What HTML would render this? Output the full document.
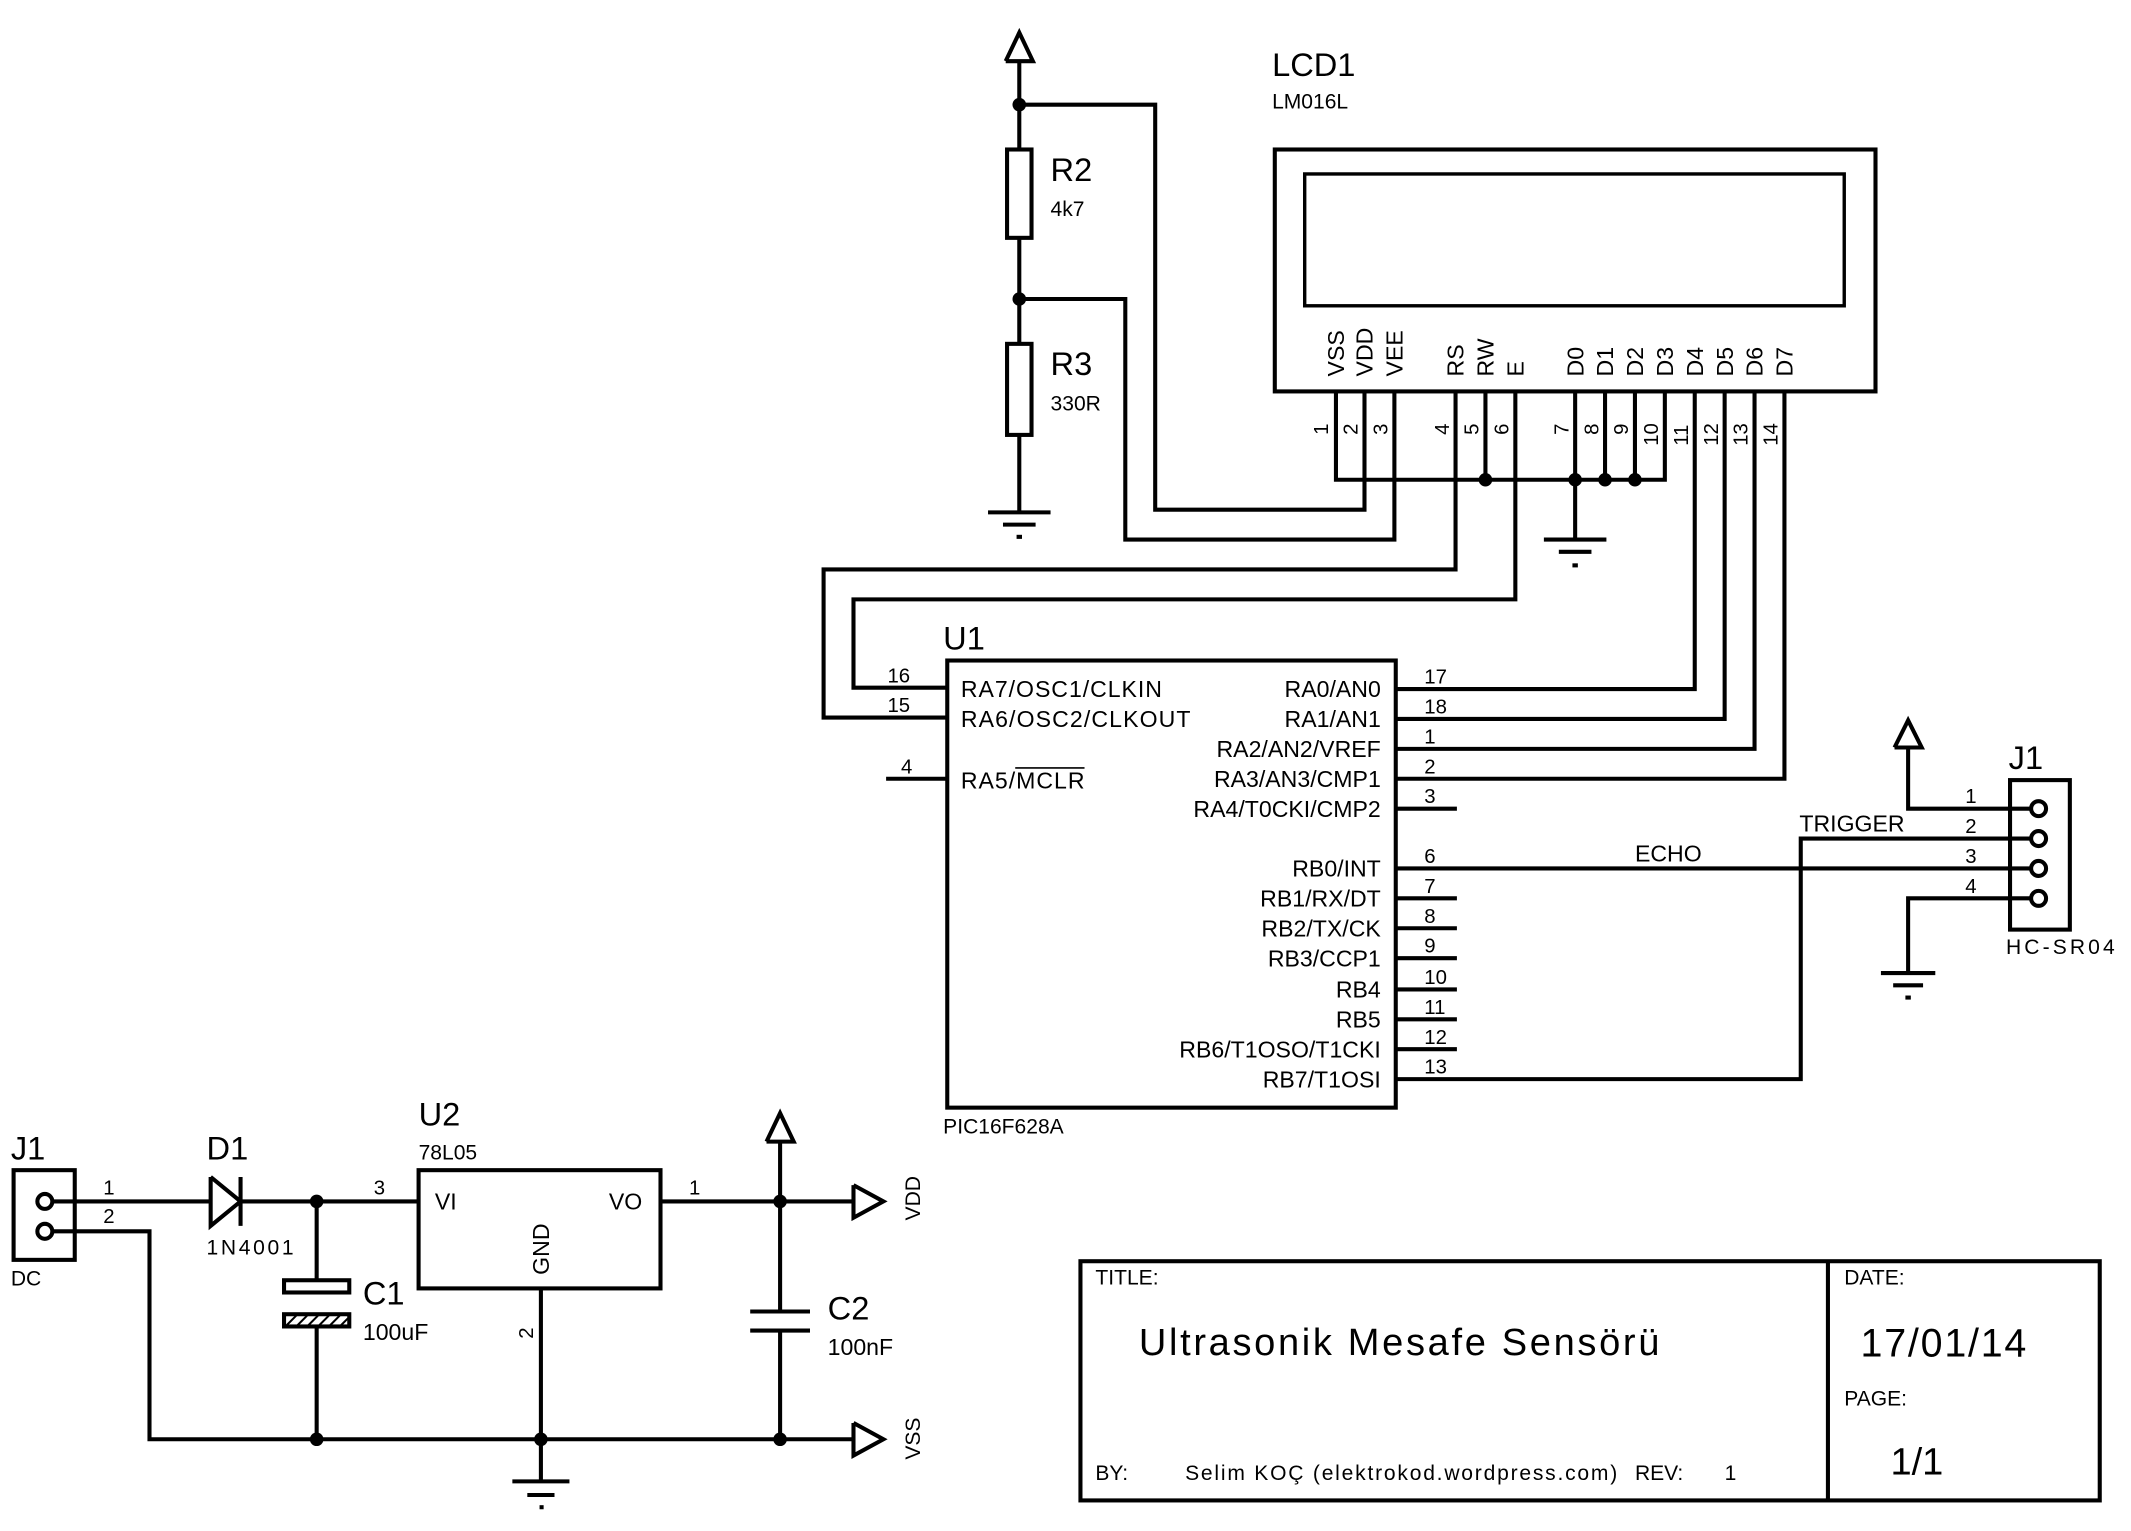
<!DOCTYPE html>
<html><head><meta charset="utf-8"><style>
html,body{margin:0;padding:0;background:#fff}
svg{display:block}
text{font-family:"Liberation Sans",Arial,sans-serif;fill:#000}
.s{font-size:17px}.m{font-size:15.5px}.b{font-size:24px}.n{font-size:15px}
</style></head><body>
<svg width="2131" height="1531" viewBox="0 0 1568 1126.5" preserveAspectRatio="none" xmlns="http://www.w3.org/2000/svg">
<g stroke="#000" stroke-width="3" fill="none">
<polyline points="740,45 750,24 760,45 740,45"/>
<line x1="750" y1="45" x2="750" y2="110"/>
<rect x="741" y="110" width="18" height="65"/>
<line x1="750" y1="175" x2="750" y2="253"/>
<rect x="741" y="253" width="18" height="67"/>
<line x1="750" y1="320" x2="750" y2="377"/>
<line x1="727" y1="377" x2="773" y2="377"/><line x1="738" y1="386" x2="762" y2="386"/><line x1="748" y1="395" x2="752" y2="395"/>
<rect x="938" y="110" width="442" height="178"/>
<rect x="960" y="128" width="397" height="97" stroke-width="2.5"/>
<polyline points="983,288 983,353 1225,353 1225,288"/>
<line x1="1093" y1="288" x2="1093" y2="353"/>
<line x1="1159" y1="288" x2="1159" y2="397"/>
<line x1="1181" y1="288" x2="1181" y2="353"/>
<line x1="1203" y1="288" x2="1203" y2="353"/>
<line x1="1136" y1="397" x2="1182" y2="397"/><line x1="1147" y1="406" x2="1171" y2="406"/><line x1="1157" y1="416" x2="1161" y2="416"/>
<polyline points="750,77 850,77 850,375 1004,375 1004,288"/>
<polyline points="750,220 828,220 828,397 1026,397 1026,288"/>
<polyline points="1071,288 1071,419 606,419 606,528 697,528"/>
<polyline points="1115,288 1115,441 628,441 628,506 697,506"/>
<polyline points="1247,288 1247,507 1027,507"/>
<polyline points="1269,288 1269,529 1027,529"/>
<polyline points="1291,288 1291,551 1027,551"/>
<polyline points="1313,288 1313,573 1027,573"/>
<rect x="697" y="486" width="330" height="329"/>
<line x1="652" y1="573" x2="697" y2="573"/>
<line x1="1027" y1="595" x2="1072" y2="595"/>
<line x1="1027" y1="661" x2="1072" y2="661"/>
<line x1="1027" y1="683" x2="1072" y2="683"/>
<line x1="1027" y1="705" x2="1072" y2="705"/>
<line x1="1027" y1="728" x2="1072" y2="728"/>
<line x1="1027" y1="750" x2="1072" y2="750"/>
<line x1="1027" y1="772" x2="1072" y2="772"/>
<line x1="1027" y1="639" x2="1495" y2="639"/>
<polyline points="1027,794 1325,794 1325,617 1495,617"/>
<rect x="1479" y="574" width="44" height="110"/>
<polyline points="1394,550 1404,530 1414,550 1394,550"/>
<polyline points="1404,550 1404,595 1495,595"/>
<polyline points="1495,661 1404,661 1404,716"/>
<line x1="1384" y1="716" x2="1424" y2="716"/><line x1="1393" y1="725" x2="1415" y2="725"/><line x1="1402" y1="734" x2="1406" y2="734"/>
<circle cx="1500" cy="595" r="5.5"/><circle cx="1500" cy="617" r="5.5"/><circle cx="1500" cy="639" r="5.5"/><circle cx="1500" cy="661" r="5.5"/>
<rect x="10" y="861" width="45" height="66"/>
<circle cx="33" cy="884" r="5.5"/><circle cx="33" cy="906" r="5.5"/>
<line x1="39" y1="884" x2="155" y2="884"/>
<polyline points="155,866 155,902 177,884 155,866"/>
<line x1="177" y1="866" x2="177" y2="902"/>
<line x1="177" y1="884" x2="308" y2="884"/>
<polyline points="39,906 110,906 110,1059 628,1059"/>
<line x1="233" y1="884" x2="233" y2="942"/>
<rect x="209" y="942" width="48" height="9"/>
<rect x="209" y="967" width="48" height="9"/>
<line x1="233" y1="976" x2="233" y2="1059"/>
<rect x="308" y="861" width="178" height="87"/>
<line x1="398" y1="948" x2="398" y2="1090"/>
<line x1="377" y1="1090" x2="419" y2="1090"/><line x1="388" y1="1100" x2="408" y2="1100"/><line x1="397" y1="1109" x2="400" y2="1109"/>
<line x1="486" y1="884" x2="628" y2="884"/>
<polyline points="564,840 574,819 584,840 564,840"/>
<line x1="574" y1="840" x2="574" y2="965"/>
<line x1="552" y1="965" x2="596" y2="965"/>
<line x1="552" y1="979" x2="596" y2="979"/>
<line x1="574" y1="979" x2="574" y2="1059"/>
<polyline points="628,872 650,884 628,896 628,872"/>
<polyline points="628,1047 650,1059 628,1071 628,1047"/>
<rect x="795" y="928" width="750" height="176"/>
<line x1="1345" y1="928" x2="1345" y2="1104"/>
</g>
<g stroke="#000" stroke-width="1.5">
<line x1="211" y1="975" x2="218" y2="968"/><line x1="219" y1="975" x2="226" y2="968"/><line x1="227" y1="975" x2="234" y2="968"/><line x1="235" y1="975" x2="242" y2="968"/><line x1="243" y1="975" x2="250" y2="968"/><line x1="251" y1="975" x2="256" y2="970"/>
</g>
<g fill="#000">
<circle cx="750" cy="77" r="5"/><circle cx="750" cy="220" r="5"/>
<circle cx="1093" cy="353" r="5"/><circle cx="1159" cy="353" r="5"/><circle cx="1181" cy="353" r="5"/><circle cx="1203" cy="353" r="5"/>
<circle cx="233" cy="884" r="5"/><circle cx="233" cy="1059" r="5"/><circle cx="398" cy="1059" r="5"/><circle cx="574" cy="1059" r="5"/><circle cx="574" cy="884" r="5"/>
</g>
<text x="936" y="56" class="b">LCD1</text>
<text x="936" y="80" class="m">LM016L</text>
<text x="773" y="133" class="b">R2</text><text x="773" y="159" class="m">4k7</text>
<text x="773" y="276" class="b">R3</text><text x="773" y="302" class="m">330R</text>
<g class="s">
<text transform="translate(989,277) rotate(-90)">VSS</text>
<text transform="translate(1010,277) rotate(-90)">VDD</text>
<text transform="translate(1032,277) rotate(-90)">VEE</text>
<text transform="translate(1077,277) rotate(-90)">RS</text>
<text transform="translate(1099,277) rotate(-90)">RW</text>
<text transform="translate(1121,277) rotate(-90)">E</text>
<text transform="translate(1165,277) rotate(-90)">D0</text>
<text transform="translate(1187,277) rotate(-90)">D1</text>
<text transform="translate(1209,277) rotate(-90)">D2</text>
<text transform="translate(1231,277) rotate(-90)">D3</text>
<text transform="translate(1253,277) rotate(-90)">D4</text>
<text transform="translate(1275,277) rotate(-90)">D5</text>
<text transform="translate(1297,277) rotate(-90)">D6</text>
<text transform="translate(1319,277) rotate(-90)">D7</text>
</g>
<g class="n">
<text transform="translate(977,320) rotate(-90)">1</text>
<text transform="translate(999,320) rotate(-90)">2</text>
<text transform="translate(1021,320) rotate(-90)">3</text>
<text transform="translate(1066,320) rotate(-90)">4</text>
<text transform="translate(1088,320) rotate(-90)">5</text>
<text transform="translate(1110,320) rotate(-90)">6</text>
<text transform="translate(1154,320) rotate(-90)">7</text>
<text transform="translate(1176,320) rotate(-90)">8</text>
<text transform="translate(1198,320) rotate(-90)">9</text>
<text transform="translate(1220,328) rotate(-90)">10</text>
<text transform="translate(1242,328) rotate(-90)">11</text>
<text transform="translate(1264,328) rotate(-90)">12</text>
<text transform="translate(1286,328) rotate(-90)">13</text>
<text transform="translate(1308,328) rotate(-90)">14</text>
</g>
<text x="694" y="478" class="b">U1</text>
<text x="694" y="834" class="m">PIC16F628A</text>
<g class="s">
<text x="707" y="513" textLength="148">RA7/OSC1/CLKIN</text>
<text x="707" y="535" textLength="169">RA6/OSC2/CLKOUT</text>
<text x="707" y="580" textLength="91">RA5/MCLR</text>
</g>
<line x1="747" y1="565" x2="798" y2="565" stroke="#000" stroke-width="1.2"/>
<g class="s" text-anchor="end">
<text x="1016" y="513">RA0/AN0</text><text x="1016" y="535">RA1/AN1</text><text x="1016" y="557">RA2/AN2/VREF</text><text x="1016" y="579">RA3/AN3/CMP1</text><text x="1016" y="601">RA4/T0CKI/CMP2</text>
<text x="1016" y="645">RB0/INT</text><text x="1016" y="667">RB1/RX/DT</text><text x="1016" y="689">RB2/TX/CK</text><text x="1016" y="711">RB3/CCP1</text><text x="1016" y="734">RB4</text><text x="1016" y="756">RB5</text><text x="1016" y="778">RB6/T1OSO/T1CKI</text><text x="1016" y="800">RB7/T1OSI</text>
</g>
<g class="n">
<text x="653" y="502">16</text><text x="653" y="524">15</text><text x="663" y="569">4</text>
<text x="1048" y="503">17</text><text x="1048" y="525">18</text><text x="1048" y="547">1</text><text x="1048" y="569">2</text><text x="1048" y="591">3</text>
<text x="1048" y="635">6</text><text x="1048" y="657">7</text><text x="1048" y="679">8</text><text x="1048" y="701">9</text><text x="1048" y="724">10</text><text x="1048" y="746">11</text><text x="1048" y="768">12</text><text x="1048" y="790">13</text>
<text x="1446" y="591">1</text><text x="1446" y="613">2</text><text x="1446" y="635">3</text><text x="1446" y="657">4</text>
</g>
<text x="1203" y="634" class="s">ECHO</text>
<text x="1324" y="612" class="s">TRIGGER</text>
<text x="1478" y="566" class="b">J1</text>
<text x="1476" y="702" class="m" textLength="80">HC-SR04</text>
<text x="8" y="853" class="b">J1</text>
<text x="8" y="946" class="m">DC</text>
<text x="76" y="879" class="n">1</text><text x="76" y="900" class="n">2</text>
<text x="152" y="853" class="b">D1</text>
<text x="152" y="923" class="m" textLength="64">1N4001</text>
<text x="308" y="828" class="b">U2</text>
<text x="308" y="853" class="m">78L05</text>
<text x="275" y="879" class="n">3</text><text x="507" y="879" class="n">1</text>
<text x="320" y="890" class="s">VI</text><text x="448" y="890" class="s">VO</text>
<text transform="translate(404,938) rotate(-90)" class="s">GND</text>
<text transform="translate(392,985) rotate(-90)" class="n">2</text>
<text x="267" y="960" class="b">C1</text><text x="267" y="986" class="s">100uF</text>
<text x="609" y="971" class="b">C2</text><text x="609" y="997" class="s">100nF</text>
<text transform="translate(677,898) rotate(-90)" class="m">VDD</text>
<text transform="translate(677,1074) rotate(-90)" class="m">VSS</text>
<text x="806" y="945" class="m">TITLE:</text>
<text x="838" y="997" style="font-size:28px" textLength="383">Ultrasonik Mesafe Sensörü</text>
<text x="806" y="1089" class="m">BY:</text>
<text x="872" y="1089" class="m" textLength="318">Selim KOÇ (elektrokod.wordpress.com)</text>
<text x="1203" y="1089" class="m">REV:</text><text x="1269" y="1089" class="m">1</text>
<text x="1357" y="945" class="m">DATE:</text>
<text x="1369" y="998" style="font-size:29px" textLength="122">17/01/14</text>
<text x="1357" y="1034" class="m">PAGE:</text>
<text x="1391" y="1085" style="font-size:28px">1/1</text>
</svg>
</body></html>
